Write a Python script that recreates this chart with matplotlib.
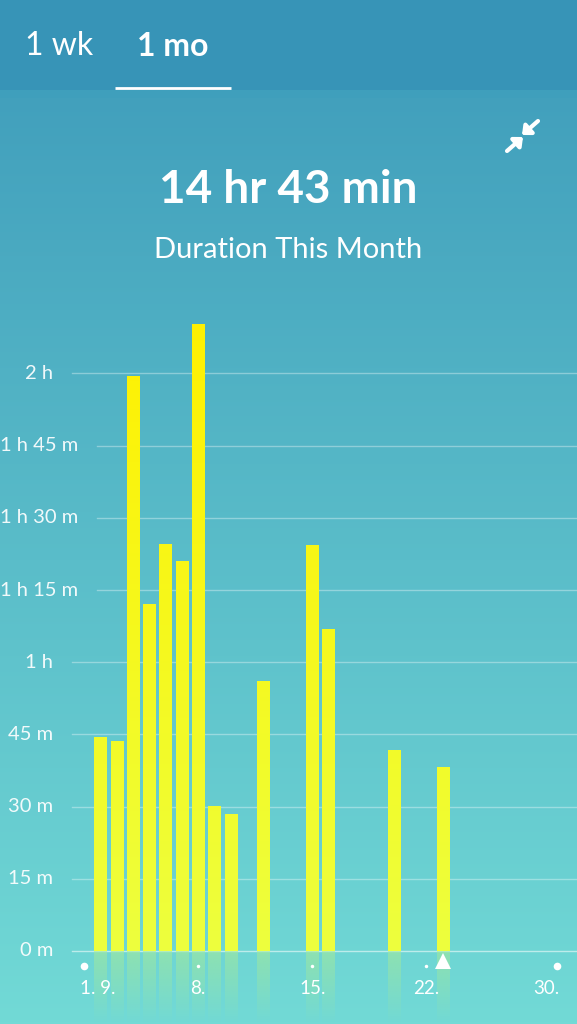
import numpy as np
import matplotlib
matplotlib.use("Agg")
from matplotlib import pyplot as plt
from matplotlib.colors import LinearSegmentedColormap, to_rgb

plt.rcParams['font.family'] = ['Lato', 'DejaVu Sans']

# minutes asleep per day of September
days = [2, 3, 4, 5, 6, 7, 8, 9, 10, 12, 15, 16, 20, 23]
minutes = [44.4, 43.6, 119.5, 72.1, 84.6, 81.1, 130.3, 30.1, 28.5, 56.0, 84.4, 66.8, 41.8, 38.2]

ytick_vals = [0, 15, 30, 45, 60, 75, 90, 105, 120]
ytick_labels = ['0 m', '15 m', '30 m', '45 m', '1 h', '1 h 15 m', '1 h 30 m', '1 h 45 m', '2 h']
xtick_days = [1, 8, 15, 22, 30]
xtick_labels = ['1. 9.', '8.', '15.', '22.', '30.']
today = 23

W, H = 577, 1024
fig = plt.figure(figsize=(W / 100, H / 100), dpi=100)

# background gradient
bg = fig.add_axes([0, 0, 1, 1])
bg.set_axis_off()
top_c = np.array(to_rgb('#3d9aba'))
bot_c = np.array(to_rgb('#72dad6'))
t = np.linspace(0, 1, 512)[:, None, None]
grad = top_c * (1 - t) + bot_c * t
grad = np.repeat(grad, 2, axis=1)
bg.imshow(grad, extent=[0, W, H, 0], aspect='auto')
bg.add_patch(plt.Rectangle((0, 0), W, 90, color='#3794b7', lw=0))
bg.add_patch(plt.Rectangle((0, 90), W, 8, color='#3f9fbc', lw=0, alpha=0.6))
bg.plot([115, 231], [88, 88], color='white', lw=2, solid_capstyle='butt')
bg.set_xlim(0, W)
bg.set_ylim(H, 0)

bg.text(25, 46, '1 wk', color='white', fontsize=23, ha='left', va='center')
bg.text(137, 46, '1 mo', color='white', fontsize=23, ha='left', va='center', fontweight='bold')
bg.text(288, 190, '14 hr 43 min', color='white', fontsize=33, ha='center', va='center', fontweight='bold')
bg.text(288, 250, 'Duration This Month', color='white', fontsize=21, ha='center', va='center')

# compress icon
arrow_kw = dict(arrowstyle='-|>,head_length=0.45,head_width=0.4', color='white', lw=3, shrinkA=0, shrinkB=0)
bg.annotate('', xy=(522, 135), xytext=(538, 121), arrowprops=arrow_kw)
bg.annotate('', xy=(523, 137), xytext=(507, 151), arrowprops=arrow_kw)

# main chart axes, placed so 1 px ~ day / minute scale of the screenshot
ax = fig.add_axes([0, 0, 1, (H - 300) / H])
ax.set_facecolor('none')
ax.set_axis_off()
px_day = 16.3
px_min = 72.2 / 15
ax.set_xlim(1 - 84 / px_day, 1 + (W - 84) / px_day)
ax.set_ylim(-(H - 951) / px_min, (951 - 300) / px_min)
ymax = ax.get_ylim()[1]
ymin = ax.get_ylim()[0]

bar_cmap = LinearSegmentedColormap.from_list('bar', ['#edff3e', '#f6f81c', '#fff000'])
bw = 0.74
bars = ax.bar(days, minutes, width=bw, color='#f5f520', lw=0, zorder=3)
vgrad = np.linspace(0, 1, 256)[:, None]
refl_rgb = np.array(to_rgb('#a8ec96'))
refl = np.zeros((128, 2, 4))
refl[..., :3] = refl_rgb
refl[..., 3] = np.linspace(0.55, 0.0, 128)[:, None]
for b in bars:
    x0 = b.get_x()
    im = ax.imshow(vgrad, extent=[x0, x0 + bw, 0, ymax], origin='lower', aspect='auto',
                   cmap=bar_cmap, zorder=4)
    im.set_clip_path(b)
    ax.imshow(refl, extent=[x0, x0 + bw, ymin, 0], aspect='auto', zorder=2)

# y labels and gridlines
fig.canvas.draw()
renderer = fig.canvas.get_renderer()
for v, lab in zip(ytick_vals, ytick_labels):
    if 'h' in lab and 'm' in lab:
        tx = ax.text(0, v, lab, transform=ax.get_yaxis_transform(), ha='left', va='center',
                     color='white', fontsize=14.5, alpha=0.92)
    else:
        tx = ax.text(53 / W, v, lab, transform=ax.get_yaxis_transform(), ha='right', va='center',
                     color='white', fontsize=14.5, alpha=0.92)
    bb = tx.get_window_extent(renderer)
    start = max(72, bb.x1 + 19) / W
    ax.axhline(v, xmin=start, xmax=1, color='white', alpha=0.35 if v else 0.55, lw=1, zorder=1)

# x labels, dots and today marker
dot_y = -(966 - 951) / px_min
lab_y = -(989 - 951) / px_min
for d, lab in zip(xtick_days, xtick_labels):
    big = d in (1, 30)
    ax.plot(d, dot_y, 'o', color='white', ms=5.5 if big else 2.5, mew=0, zorder=5)
    if d == 1:
        ax.text(d - 4 / px_day, lab_y, lab, ha='left', va='center', color='white', fontsize=13.5)
    elif d == 30:
        ax.text(d + 3 / px_day, lab_y, lab, ha='right', va='center', color='white', fontsize=13.5)
    else:
        ax.text(d, lab_y, lab, ha='center', va='center', color='white', fontsize=13.5)
ax.plot(today, -(961 - 951) / px_min, '^', color='white', ms=11, mew=0, zorder=6)

fig.savefig('out.png', dpi=100)
